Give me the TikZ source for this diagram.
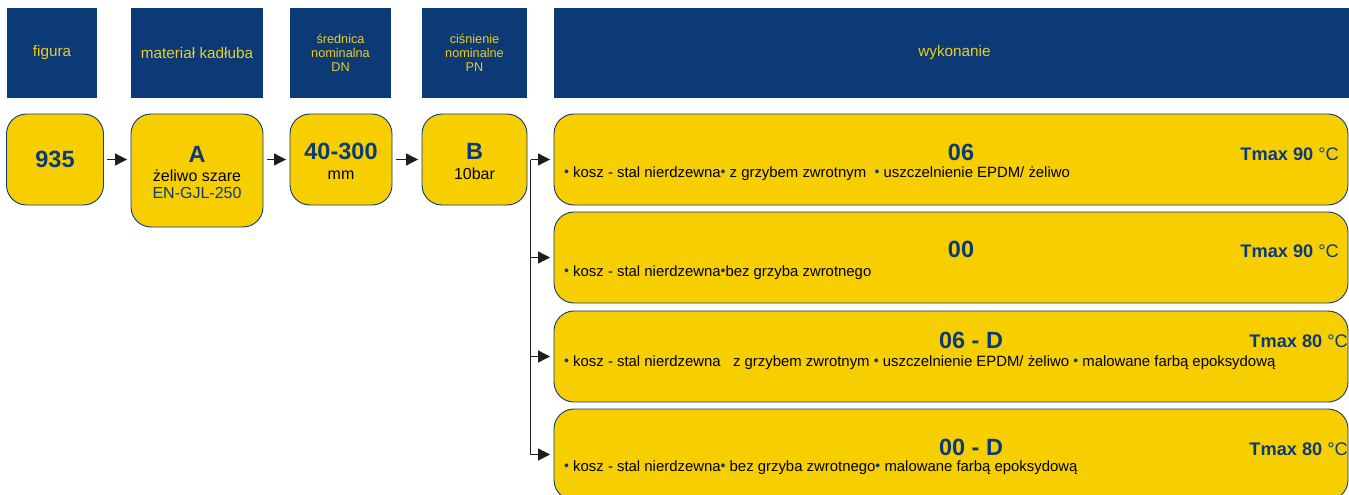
\documentclass[tikz,border=0pt]{standalone}
\usepackage{fontspec}
\setmainfont{Liberation Sans}
\usetikzlibrary{arrows.meta}
\definecolor{navy}{RGB}{11,58,118}
\definecolor{ylw}{RGB}{247,207,0}
\definecolor{htext}{RGB}{235,205,35}
\definecolor{arrc}{RGB}{30,30,30}
\newcommand\bl{{\color{navy}\fontsize{14}{12}\selectfont\raisebox{0.8pt}{•}}}
\begin{document}
\begin{tikzpicture}[x=1pt,y=-1pt,
 hdr/.style={fill=navy, draw=none, inner sep=0, text=htext, align=center, font=\fontsize{15.3}{17}\selectfont},
 hdrs/.style={hdr, font=\fontsize{12.7}{14.3}\selectfont},
 ybox/.style={fill=ylw, draw=navy, line width=0.9pt, rounded corners=20pt, inner sep=0},
 code/.style={text=navy, font=\fontsize{23.5}{24}\selectfont\bfseries, inner sep=0, anchor=base},
 sub/.style={font=\fontsize{16}{18}\selectfont, inner sep=0, anchor=base},
 tmax/.style={text=navy, font=\fontsize{18.2}{20}\selectfont, inner sep=0, anchor=base east},
 blt/.style={font=\fontsize{14.9}{16}\selectfont, inner sep=0, anchor=base west},
 arr/.style={draw=arrc, line width=1.1pt, -{Triangle[length=12pt,width=12pt]}, shorten <=3.5pt, shorten >=3.5pt}
]
\useasboundingbox (0,0) rectangle (1349,495);
\clip (0,0) rectangle (1349,495);

% headers
\node[hdr, minimum width=90pt, minimum height=90pt] (h1) at (52,53) {figura};
\node[hdr, minimum width=132pt, minimum height=90pt] (h2) at (197,53) {materiał kadłuba};
\node[hdrs, minimum width=101pt, minimum height=90pt] (h3) at (340.5,53) {średnica\\nominalna\\DN};
\node[hdrs, minimum width=105pt, minimum height=90pt] (h4) at (474.5,53) {ciśnienie\\nominalne\\PN};
\node[hdr, minimum width=801pt, minimum height=90pt] (h5) at (954.5,53) {wykonanie};

% first row boxes
\node[ybox, minimum width=97pt, minimum height=91pt] (b1) at (55,159.5) {};
\node[ybox, minimum width=132pt, minimum height=113pt] (b2) at (197,170.5) {};
\node[ybox, minimum width=102pt, minimum height=91pt] (b3) at (341,159.5) {};
\node[ybox, minimum width=105pt, minimum height=91pt] (b4) at (474.5,159.5) {};

\node[code] (t1) at (55,167.7) {935};
\node[code] (t2a) at (197,162.3) {A};
\node[sub] (t2b) at (197,181.7) {żeliwo szare};
\node[sub, text=navy] (t2c) at (197,198.3) {EN-GJL-250};
\node[code] (t3a) at (341,159.3) {40-300};
\node[sub] (t3b) at (341,179) {mm};
\node[code] (t4a) at (474.5,159.3) {B};
\node[sub] (t4b) at (474.5,179) {10bar};

% right boxes
\node[ybox, minimum width=794pt, minimum height=91pt] (r1) at (951,159.5) {};
\node[ybox, minimum width=794pt, minimum height=91pt] (r2) at (951,257.5) {};
\node[ybox, minimum width=794pt, minimum height=91pt] (r3) at (951,356.5) {};
\node[ybox, minimum width=794pt, minimum height=91pt] (r4) at (951,454.5) {};

\node[code] (c1) at (961,160) {06};
\node[tmax] (m1) at (1339,160) {\textbf{Tmax 90} °C};
\node[blt] (l1) at (564,177.7) {\bl\ kosz - stal nierdzewna\bl\ z grzybem zwrotnym\ \ \bl\ uszczelnienie EPDM/ żeliwo};

\node[code] (c2) at (961,257.7) {00};
\node[tmax] (m2) at (1339,257.7) {\textbf{Tmax 90} °C};
\node[blt] (l2) at (564,276.7) {\bl\ kosz - stal nierdzewna\bl bez grzyba zwrotnego};

\node[code] (c3) at (971,348.3) {06 - D};
\node[tmax] (m3) at (1348,347.7) {\textbf{Tmax 80} °C};
\node[blt] (l3) at (564,366) {\bl\ kosz - stal nierdzewna\ \ \ z grzybem zwrotnym \bl\ uszczelnienie EPDM/ żeliwo \bl\ malowane farbą epoksydową};

\node[code] (c4) at (971,455) {00 - D};
\node[tmax] (m4) at (1348,455) {\textbf{Tmax 80} °C};
\node[blt] (l4) at (564,471.7) {\bl\ kosz - stal nierdzewna\bl\ bez grzyba zwrotnego\bl\ malowane farbą epoksydową};

% connectors
\draw[arr] (b1.east) -- (b1.east -| b2.west);
\draw[arr] (b2.east |- b3) -- (b3.west);
\draw[arr] (b3.east) -- (b4.west);
\coordinate (br) at (530.7,159.5);
\draw[draw=arrc, line width=1.1pt] (br) -- (br |- r4);
\draw[arr, shorten <=0pt] (br) -- (r1.west);
\draw[arr, shorten <=0pt] (br |- r2) -- (r2.west);
\draw[arr, shorten <=0pt] (br |- r3) -- (r3.west);
\draw[arr, shorten <=0pt] (br |- r4) -- (r4.west);
\end{tikzpicture}
\end{document}
